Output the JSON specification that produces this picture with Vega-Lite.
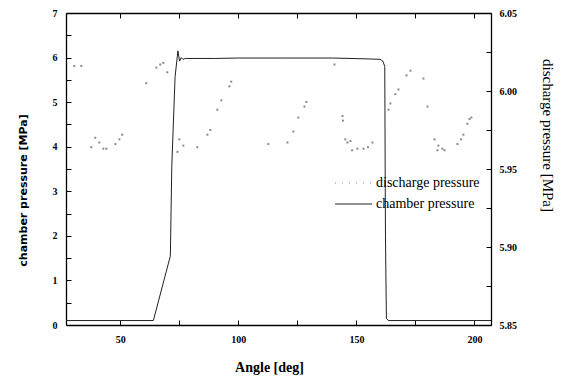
{
  "$schema": "https://vega.github.io/schema/vega-lite/v6.json",
  "width": 425,
  "height": 312,
  "autosize": {"type": "none"},
  "padding": {"left": 66, "top": 13, "right": 70, "bottom": 51},
  "background": "white",
  "config": {
    "view": {"stroke": null},
    "axis": {
      "domainColor": "black",
      "domainWidth": 1.3,
      "tickColor": "black",
      "tickWidth": 1,
      "tickSize": -5,
      "ticks": true,
      "grid": false,
      "labelFont": "Liberation Serif",
      "labelFontSize": 10,
      "labelFontWeight": "bold",
      "labelColor": "black",
      "titleColor": "black",
      "labelPadding": 14
    }
  },
  "datasets": {
    "chamber": [
      {"angle": 27, "pressure": 0.1, "series": "chamber pressure"},
      {"angle": 64, "pressure": 0.1, "series": "chamber pressure"},
      {"angle": 71.2, "pressure": 1.55, "series": "chamber pressure"},
      {"angle": 71.8, "pressure": 3.55, "series": "chamber pressure"},
      {"angle": 73.2, "pressure": 5.57, "series": "chamber pressure"},
      {"angle": 74.4, "pressure": 6.15, "series": "chamber pressure"},
      {"angle": 75.1, "pressure": 5.92, "series": "chamber pressure"},
      {"angle": 75.8, "pressure": 6.0, "series": "chamber pressure"},
      {"angle": 76.5, "pressure": 5.96, "series": "chamber pressure"},
      {"angle": 77.5, "pressure": 5.98, "series": "chamber pressure"},
      {"angle": 90, "pressure": 5.98, "series": "chamber pressure"},
      {"angle": 100, "pressure": 5.99, "series": "chamber pressure"},
      {"angle": 120, "pressure": 5.99, "series": "chamber pressure"},
      {"angle": 140, "pressure": 5.99, "series": "chamber pressure"},
      {"angle": 155, "pressure": 5.97, "series": "chamber pressure"},
      {"angle": 160, "pressure": 5.96, "series": "chamber pressure"},
      {"angle": 161.2, "pressure": 5.92, "series": "chamber pressure"},
      {"angle": 162.0, "pressure": 5.8, "series": "chamber pressure"},
      {"angle": 162.3, "pressure": 2.0, "series": "chamber pressure"},
      {"angle": 162.7, "pressure": 0.15, "series": "chamber pressure"},
      {"angle": 163.5, "pressure": 0.1, "series": "chamber pressure"},
      {"angle": 207, "pressure": 0.1, "series": "chamber pressure"}
    ],
    "discharge": [
      {"angle": 30.5, "pressure": 6.016, "series": "discharge pressure"},
      {"angle": 33.5, "pressure": 6.016, "series": "discharge pressure"},
      {"angle": 37.7, "pressure": 5.964, "series": "discharge pressure"},
      {"angle": 39.4, "pressure": 5.970, "series": "discharge pressure"},
      {"angle": 41.1, "pressure": 5.967, "series": "discharge pressure"},
      {"angle": 42.8, "pressure": 5.963, "series": "discharge pressure"},
      {"angle": 44.1, "pressure": 5.963, "series": "discharge pressure"},
      {"angle": 47.9, "pressure": 5.966, "series": "discharge pressure"},
      {"angle": 49.6, "pressure": 5.969, "series": "discharge pressure"},
      {"angle": 50.8, "pressure": 5.972, "series": "discharge pressure"},
      {"angle": 61.0, "pressure": 6.005, "series": "discharge pressure"},
      {"angle": 65.3, "pressure": 6.015, "series": "discharge pressure"},
      {"angle": 66.9, "pressure": 6.017, "series": "discharge pressure"},
      {"angle": 68.2, "pressure": 6.018, "series": "discharge pressure"},
      {"angle": 69.9, "pressure": 6.012, "series": "discharge pressure"},
      {"angle": 74.2, "pressure": 5.961, "series": "discharge pressure"},
      {"angle": 75.0, "pressure": 5.969, "series": "discharge pressure"},
      {"angle": 76.7, "pressure": 5.965, "series": "discharge pressure"},
      {"angle": 82.6, "pressure": 5.964, "series": "discharge pressure"},
      {"angle": 86.9, "pressure": 5.972, "series": "discharge pressure"},
      {"angle": 88.1, "pressure": 5.975, "series": "discharge pressure"},
      {"angle": 91.1, "pressure": 5.988, "series": "discharge pressure"},
      {"angle": 92.8, "pressure": 5.994, "series": "discharge pressure"},
      {"angle": 96.2, "pressure": 6.003, "series": "discharge pressure"},
      {"angle": 97.0, "pressure": 6.006, "series": "discharge pressure"},
      {"angle": 112.7, "pressure": 5.966, "series": "discharge pressure"},
      {"angle": 120.8, "pressure": 5.967, "series": "discharge pressure"},
      {"angle": 123.3, "pressure": 5.974, "series": "discharge pressure"},
      {"angle": 125.4, "pressure": 5.983, "series": "discharge pressure"},
      {"angle": 128.0, "pressure": 5.990, "series": "discharge pressure"},
      {"angle": 128.8, "pressure": 5.993, "series": "discharge pressure"},
      {"angle": 140.7, "pressure": 6.017, "series": "discharge pressure"},
      {"angle": 144.1, "pressure": 5.984, "series": "discharge pressure"},
      {"angle": 144.3, "pressure": 5.981, "series": "discharge pressure"},
      {"angle": 145.3, "pressure": 5.969, "series": "discharge pressure"},
      {"angle": 146.2, "pressure": 5.967, "series": "discharge pressure"},
      {"angle": 147.5, "pressure": 5.968, "series": "discharge pressure"},
      {"angle": 148.2, "pressure": 5.962, "series": "discharge pressure"},
      {"angle": 150.4, "pressure": 5.963, "series": "discharge pressure"},
      {"angle": 153.0, "pressure": 5.963, "series": "discharge pressure"},
      {"angle": 154.9, "pressure": 5.964, "series": "discharge pressure"},
      {"angle": 156.8, "pressure": 5.967, "series": "discharge pressure"},
      {"angle": 163.6, "pressure": 5.988, "series": "discharge pressure"},
      {"angle": 164.4, "pressure": 5.992, "series": "discharge pressure"},
      {"angle": 166.5, "pressure": 5.998, "series": "discharge pressure"},
      {"angle": 167.8, "pressure": 6.001, "series": "discharge pressure"},
      {"angle": 171.2, "pressure": 6.010, "series": "discharge pressure"},
      {"angle": 172.9, "pressure": 6.013, "series": "discharge pressure"},
      {"angle": 178.4, "pressure": 6.008, "series": "discharge pressure"},
      {"angle": 180.1, "pressure": 5.990, "series": "discharge pressure"},
      {"angle": 183.1, "pressure": 5.969, "series": "discharge pressure"},
      {"angle": 184.3, "pressure": 5.962, "series": "discharge pressure"},
      {"angle": 184.7, "pressure": 5.965, "series": "discharge pressure"},
      {"angle": 186.4, "pressure": 5.963, "series": "discharge pressure"},
      {"angle": 187.3, "pressure": 5.962, "series": "discharge pressure"},
      {"angle": 192.8, "pressure": 5.966, "series": "discharge pressure"},
      {"angle": 194.3, "pressure": 5.969, "series": "discharge pressure"},
      {"angle": 195.3, "pressure": 5.972, "series": "discharge pressure"},
      {"angle": 197.0, "pressure": 5.979, "series": "discharge pressure"},
      {"angle": 197.9, "pressure": 5.982, "series": "discharge pressure"},
      {"angle": 198.7, "pressure": 5.983, "series": "discharge pressure"}
    ]
  },
  "layer": [
    {
      "data": {"name": "chamber"},
      "mark": {"type": "line", "strokeWidth": 1},
      "encoding": {
        "x": {
          "field": "angle", "type": "quantitative",
          "scale": {"domain": [27, 207], "nice": false, "zero": false},
          "axis": {
            "orient": "bottom",
            "values": [50, 75, 100, 125, 150, 175, 200],
            "format": ".0f",
            "labelExpr": "datum.value % 50 === 0 ? datum.label : ''",
            "title": "Angle [deg]",
            "titleFont": "Liberation Serif",
            "titleFontSize": 14,
            "titleFontWeight": "bold",
            "titleX": 203,
            "titleY": 46,
            "titleAlign": "center",
            "titleBaseline": "alphabetic",
            "encode": {"ticks": {"update": {"y2": {"signal": "datum.value % 50 === 0 ? -6 : -3"}}}}
          }
        },
        "y": {
          "field": "pressure", "type": "quantitative",
          "scale": {"domain": [0, 7], "nice": false},
          "axis": {
            "orient": "left",
            "values": [0, 0.5, 1, 1.5, 2, 2.5, 3, 3.5, 4, 4.5, 5, 5.5, 6, 6.5, 7],
            "format": ".0f",
            "labelExpr": "datum.value % 1 === 0 ? datum.label : ''",
            "title": "chamber pressure [MPa]",
            "titleFont": "DejaVu Sans",
            "titleFontSize": 11,
            "titleFontWeight": "bold",
            "titleAngle": -90,
            "titleX": -40,
            "titleY": 177,
            "titleAlign": "center",
            "titleBaseline": "alphabetic",
            "encode": {"ticks": {"update": {"x2": {"signal": "datum.value % 1 === 0 ? 6 : 3"}}}}
          }
        },
        "color": {
          "field": "series", "type": "nominal",
          "scale": {"domain": ["discharge pressure", "chamber pressure"], "range": ["#8a8a8a", "#222222"]},
          "legend": {
            "orient": "none",
            "legendX": 294,
            "legendY": 163,
            "title": null,
            "symbolType": "M-6.4,0H1",
            "symbolSize": 100,
            "symbolStrokeWidth": 1,
            "labelFont": "Liberation Serif",
            "labelFontSize": 14,
            "labelColor": "black",
            "labelOffset": 2,
            "rowPadding": 7,
            "padding": 0,
            "encode": {
              "symbols": {
                "update": {
                  "stroke": {"signal": "datum.value === 'discharge pressure' ? '#666666' : '#333333'"},
                  "strokeDash": {"signal": "datum.value === 'discharge pressure' ? [1, 6] : [1, 0]"},
                  "fill": {"value": "transparent"},
                  "opacity": {"value": 1}
                }
              }
            }
          }
        }
      }
    },
    {
      "data": {"name": "discharge"},
      "mark": {"type": "square", "size": 4, "filled": true, "opacity": 1},
      "encoding": {
        "x": {
          "field": "angle", "type": "quantitative",
          "scale": {"domain": [27, 207], "nice": false, "zero": false},
          "axis": {
            "orient": "top",
            "values": [50, 75, 100, 125, 150, 175, 200],
            "labels": false,
            "title": null,
            "encode": {"ticks": {"update": {"y2": {"signal": "datum.value % 50 === 0 ? 6 : 3"}}}}
          }
        },
        "y": {
          "field": "pressure", "type": "quantitative",
          "scale": {"domain": [5.85, 6.05], "nice": false, "zero": false},
          "axis": {
            "orient": "right",
            "values": [5.85, 5.875, 5.9, 5.925, 5.95, 5.975, 6.0, 6.025, 6.05],
            "format": ".2f",
            "labelPadding": 13,
            "labelExpr": "abs(round(datum.value * 20) - datum.value * 20) < 0.001 ? datum.label : ''",
            "title": "discharge pressure [MPa]",
            "titleFont": "Liberation Serif",
            "titleFontSize": 15,
            "titleFontWeight": "normal",
            "titleAngle": 90,
            "titleX": 51,
            "titleY": 122,
            "titleAlign": "center",
            "titleBaseline": "alphabetic",
            "encode": {"ticks": {"update": {"x2": {"signal": "abs(round(datum.value * 20) - datum.value * 20) < 0.001 ? -6 : -3"}}}}
          }
        },
        "color": {"field": "series", "type": "nominal"}
      }
    }
  ],
  "resolve": {"scale": {"x": "independent", "y": "independent"}}
}
